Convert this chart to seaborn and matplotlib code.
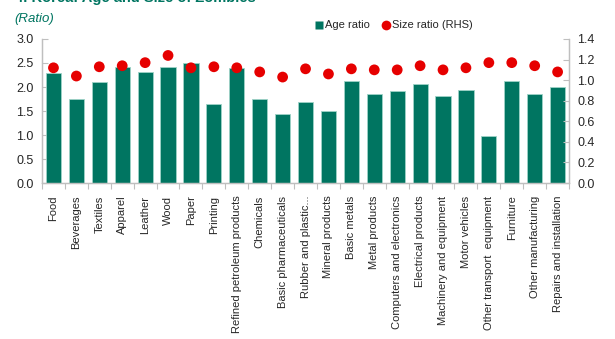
import matplotlib
matplotlib.use("Agg")
import matplotlib.pyplot as plt
from matplotlib.lines import Line2D
import seaborn as sns
import pandas as pd

# chart data
sectors = ["Food", "Beverages", "Textiles", "Apparel", "Leather", "Wood", "Paper",
           "Printing", "Refined petroleum products", "Chemicals", "Basic pharmaceuticals",
           "Rubber and plastic...", "Mineral products", "Basic metals", "Metal products",
           "Computers and electronics", "Electrical products", "Machinery and equipment",
           "Motor vehicles", "Other transport  equipment", "Furniture", "Other manufacturing",
           "Repairs and installation"]
age_ratio = [2.30, 1.75, 2.11, 2.42, 2.31, 2.42, 2.49, 1.64, 2.40, 1.75, 1.44, 1.69,
             1.50, 2.13, 1.86, 1.91, 2.07, 1.82, 1.93, 0.98, 2.13, 1.86, 2.00]
size_ratio = [1.12, 1.04, 1.13, 1.14, 1.17, 1.24, 1.12, 1.13, 1.12, 1.08, 1.03, 1.11,
              1.06, 1.11, 1.10, 1.10, 1.14, 1.10, 1.12, 1.17, 1.17, 1.14, 1.08]

df = pd.DataFrame({"sector": sectors, "age": age_ratio, "size": size_ratio})

teal = "#007561"
red = "#E60000"
grey = "#BFBFBF"

sns.set_theme(style="white")
plt.rcParams["font.family"] = ["Liberation Sans", "DejaVu Sans"]

fig = plt.figure(figsize=(6.15, 3.39), dpi=100)
ax = fig.add_axes([0.0683, 0.460, 0.857, 0.425])

sns.barplot(data=df, x="sector", y="age", color=teal, width=0.66,
            edgecolor="#9fd3c7", linewidth=0.6, saturation=1, ax=ax)
ax.set_ylim(0, 3.0)
ax.set_yticks([0, 0.5, 1.0, 1.5, 2.0, 2.5, 3.0])
ax.set_yticklabels([f"{v:.1f}" for v in ax.get_yticks()], fontsize=9)
ax.set_xlim(-0.5, len(sectors) - 0.5)
ax.set_xlabel("")
ax.set_ylabel("")
ax.set_xticks(range(len(sectors)))
ax.set_xticklabels(sectors, rotation=90, fontsize=8)
ax.tick_params(axis="x", length=0, pad=9)
ax.set_xticks([i + 0.5 for i in range(-1, len(sectors))], minor=True)
ax.tick_params(axis="x", which="minor", length=4, color=grey, width=0.8, direction="out", bottom=True)
ax.tick_params(axis="y", direction="in", length=4, color=grey, width=0.8, left=True, pad=6)

ax2 = ax.twinx()
sns.scatterplot(x=list(range(len(sectors))), y=df["size"], color=red, s=60,
                edgecolor="none", ax=ax2, zorder=5)
ax2.set_ylim(0, 1.4)
ax2.set_yticks([0, 0.2, 0.4, 0.6, 0.8, 1.0, 1.2, 1.4])
ax2.set_yticklabels([f"{v:.1f}" for v in ax2.get_yticks()], fontsize=9)
ax2.set_ylabel("")
ax2.tick_params(axis="y", direction="in", length=4, color=grey, width=0.8, right=True, pad=6)

for a in (ax, ax2):
    a.spines["top"].set_visible(False)
    for side in ("left", "right", "bottom"):
        a.spines[side].set_color(grey)
        a.spines[side].set_linewidth(0.9)

handles = [Line2D([], [], marker="s", color="none", markerfacecolor=teal, markeredgecolor="none",
                  markersize=5.5, label="Age ratio"),
           Line2D([], [], marker="o", color="none", markerfacecolor=red, markeredgecolor="none",
                  markersize=7, label="Size ratio (RHS)")]
fig.legend(handles=handles, loc="center left", bbox_to_anchor=(0.51, 0.925), ncol=2,
           frameon=False, fontsize=8, handletextpad=0.05, columnspacing=0.9, handlelength=1.0,
           borderaxespad=0, borderpad=0)

# title is cut off at the top edge, as in the source image
fig.text(0.024, 0.993, "4. Korea: Age and Size of Zombies", fontsize=10.5, fontweight="bold",
         color=teal, va="baseline", ha="left")
fig.text(0.024, 0.945, "(Ratio)", fontsize=9.5, style="italic", color=teal, va="center", ha="left")

fig.savefig("out.png", dpi=100)
